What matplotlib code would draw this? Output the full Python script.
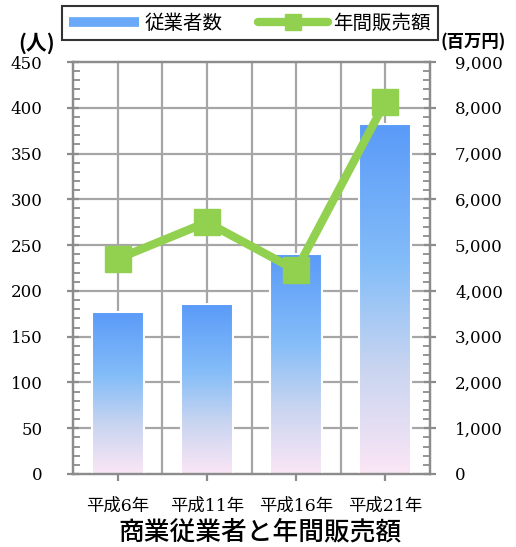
import numpy as np
import matplotlib
matplotlib.use("Agg")
import matplotlib.pyplot as plt
from matplotlib.colors import LinearSegmentedColormap
from matplotlib.lines import Line2D
from matplotlib.patches import Rectangle
from matplotlib.ticker import MultipleLocator, FuncFormatter

# Data
categories = ["平成6年", "平成11年", "平成16年", "平成21年"]
employees = [177, 186, 240, 382]          # 従業者数 (人)
sales = [4700, 5500, 4450, 8130]          # 年間販売額 (百万円)

SERIF = ["DejaVu Serif", "Noto Sans CJK JP"]
SANS = ["Noto Sans CJK JP", "DejaVu Sans"]

fig = plt.figure(figsize=(5.16, 5.47), dpi=100)
ax = fig.add_axes([73 / 516, 1 - 474 / 547, 357 / 516, 412 / 547])
ax2 = ax.twinx()

x = np.arange(len(categories))
ax.set_xlim(-0.5, len(categories) - 0.5)
ax.set_ylim(0, 450)
ax2.set_ylim(0, 9000)

grid_c = "#a6a6a6"
spine_c = "#8c8c8c"

# grid: horizontal at every 50, vertical at category centres and boundaries
for v in np.arange(50, 450, 50):
    ax.axhline(v, color=grid_c, lw=1.6, zorder=0)
for gx in np.arange(0, len(categories) - 0.5, 0.5):
    ax.axvline(gx, color=grid_c, lw=1.6, zorder=0)

# gradient bars
cmap = LinearSegmentedColormap.from_list(
    "bar", [(0.0, "#fbe6f6"), (0.3, "#c9d5f0"), (0.6, "#84bdf8"), (1.0, "#5a9af9")])
grad = np.linspace(0, 1, 256).reshape(-1, 1)
bw = 0.58
for xi, val in zip(x, employees):
    shadow = Rectangle((xi - bw / 2 + 0.012, 0), bw, val - 1.2, facecolor="#d9d9d9",
                       edgecolor="none", zorder=1)
    ax.add_patch(shadow)
    rect = Rectangle((xi - bw / 2, 0), bw, val, facecolor="none",
                     edgecolor="white", lw=1.5, zorder=3)
    ax.add_patch(rect)
    im = ax.imshow(grad, cmap=cmap, origin="lower", aspect="auto",
                   extent=(xi - bw / 2, xi + bw / 2, 0, val), zorder=2)
    im.set_clip_path(rect)
ax.set_xlim(-0.5, len(categories) - 0.5)
ax.set_ylim(0, 450)

# sales line
green = "#92d050"
ax2.plot(x, sales, color=green, lw=6, marker="s", markersize=19,
         markerfacecolor=green, markeredgecolor=green, zorder=5)

# spines
for a in (ax, ax2):
    for s in a.spines.values():
        s.set_color(spine_c)
        s.set_linewidth(1.6)

# ticks
ax.yaxis.set_major_locator(MultipleLocator(50))
ax.yaxis.set_minor_locator(MultipleLocator(10))
ax.tick_params(axis="y", which="major", direction="inout", length=8, width=1.6,
               color=spine_c, pad=18, labelsize=12)
ax.tick_params(axis="y", which="minor", direction="in", length=5, width=1.3, color=spine_c)
ax2.yaxis.set_major_locator(MultipleLocator(1000))
ax2.yaxis.set_minor_locator(MultipleLocator(200))
ax2.yaxis.set_major_formatter(FuncFormatter(lambda v, p: f"{int(v):,}"))
ax2.tick_params(axis="y", which="major", direction="inout", length=8, width=1.6,
                color=spine_c, pad=14, labelsize=12)
ax2.tick_params(axis="y", which="minor", direction="in", length=5, width=1.3, color=spine_c)
ax.set_xticks(x)
ax.set_xticklabels(categories)
ax.tick_params(axis="x", direction="out", length=5, width=1.6, color=spine_c,
               pad=12, labelsize=12)
for lab in ax.get_yticklabels() + ax2.get_yticklabels() + ax.get_xticklabels():
    lab.set_family(SERIF)
for lab in ax.get_xticklabels():
    lab.set_fontsize(12.5)

# unit labels
fig.text(37 / 516, 1 - 43 / 547, "(人)", ha="center", va="center",
         fontsize=15, fontweight="bold", family=SANS)
fig.text(473 / 516, 1 - 42 / 547, "(百万円)", ha="center", va="center",
         fontsize=12.5, fontweight="bold", family=SANS)

# title
fig.text(260 / 516, 1 - 532 / 547, "商業従業者と年間販売額", ha="center", va="center",
         fontsize=18.5, fontweight="medium", family=SANS)

# legend
handles = [
    Line2D([], [], color="#69a9f8", lw=7, solid_capstyle="butt"),
    Line2D([], [], color=green, lw=6, marker="s", markersize=11, solid_capstyle="round"),
]
leg = fig.legend(handles, ["従業者数", "年間販売額"], loc="center",
                 bbox_to_anchor=(250 / 516, 1 - 23 / 547), ncol=2,
                 frameon=True, fancybox=False, handlelength=3.6, handletextpad=0.3,
                 columnspacing=1.8, borderpad=0.35,
                 prop={"family": SANS, "size": 14})
leg.get_frame().set_edgecolor("black")
leg.get_frame().set_linewidth(1.5)

fig.savefig("out.png", dpi=100)
